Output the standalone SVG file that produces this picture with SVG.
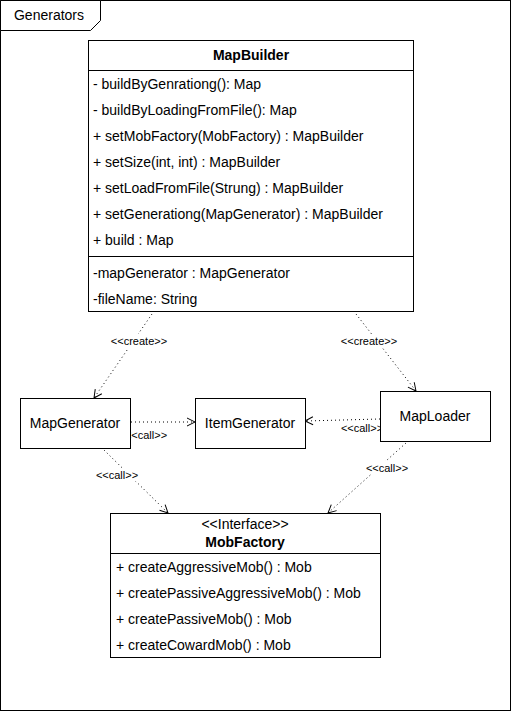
<svg xmlns="http://www.w3.org/2000/svg" width="511" height="711" viewBox="0 0 511 711">
<style>
.box{fill:#fff;stroke:#000;stroke-width:1}
.t{font-family:"Liberation Sans",Arial,sans-serif;font-size:14px;fill:#000}
.b{font-weight:bold}
.lbl{font-family:"Liberation Sans",Arial,sans-serif;font-size:11px;fill:#000}
.c{fill:none;stroke:#000;stroke-width:1;stroke-dasharray:1 3}
.lb{fill:#fff}
</style>
<defs>
<marker id="ar" markerWidth="12" markerHeight="12" refX="9" refY="5" orient="auto" markerUnits="userSpaceOnUse">
<path d="M1,1 L9,5 L1,9" fill="none" stroke="#000" stroke-width="1"/>
</marker>
</defs>
<g id="frame">
<rect x="0.5" y="0.5" width="510" height="710" fill="#fff" stroke="#000"/>
<path d="M0.5,0.5 H100.5 V20.5 L90.5,30.5 H0.5 Z" fill="#fff" stroke="#000"/>
<text class="t" x="49" y="20" text-anchor="middle">Generators</text>
</g>
<g id="connectors">
<line class="c" x1="152" y1="314" x2="94" y2="398" marker-end="url(#ar)"/>
<rect class="lb" x="110" y="334" width="58" height="14"/>
<text class="lbl" x="139" y="345" text-anchor="middle">&lt;&lt;create&gt;&gt;</text>
<line class="c" x1="356" y1="314" x2="416" y2="391" marker-end="url(#ar)"/>
<rect class="lb" x="340" y="334" width="58" height="14"/>
<text class="lbl" x="369" y="345" text-anchor="middle">&lt;&lt;create&gt;&gt;</text>
<line class="c" x1="131" y1="422" x2="195" y2="422" marker-end="url(#ar)"/>
<rect class="lb" x="125" y="429" width="43" height="13"/>
<text class="lbl" x="146" y="439" text-anchor="middle">&lt;&lt;call&gt;&gt;</text>
<line class="c" x1="380" y1="419" x2="305" y2="421" marker-end="url(#ar)"/>
<rect class="lb" x="341" y="422" width="43" height="13"/>
<text class="lbl" x="362" y="432" text-anchor="middle">&lt;&lt;call&gt;&gt;</text>
<line class="c" x1="104" y1="450" x2="168" y2="513" marker-end="url(#ar)"/>
<rect class="lb" x="96" y="468" width="43" height="13"/>
<text class="lbl" x="117" y="479" text-anchor="middle">&lt;&lt;call&gt;&gt;</text>
<line class="c" x1="406" y1="443" x2="328" y2="513" marker-end="url(#ar)"/>
<rect class="lb" x="366" y="461" width="43" height="13"/>
<text class="lbl" x="387" y="472" text-anchor="middle">&lt;&lt;call&gt;&gt;</text>
</g>
<g id="MapBuilder">
<rect class="box" x="88.5" y="40.5" width="325" height="271"/>
<line x1="88.5" y1="70.5" x2="413.5" y2="70.5" stroke="#000"/>
<line x1="88.5" y1="256.5" x2="413.5" y2="256.5" stroke="#000"/>
<text class="t b" x="251" y="60" text-anchor="middle">MapBuilder</text>
<text class="t" x="93" y="89">- buildByGenrationg(): Map</text>
<text class="t" x="93" y="115">- buildByLoadingFromFile(): Map</text>
<text class="t" x="93" y="141">+ setMobFactory(MobFactory) : MapBuilder</text>
<text class="t" x="93" y="167">+ setSize(int, int) : MapBuilder</text>
<text class="t" x="93" y="193">+ setLoadFromFile(Strung) : MapBuilder</text>
<text class="t" x="93" y="219">+ setGenerationg(MapGenerator) : MapBuilder</text>
<text class="t" x="93" y="245">+ build : Map</text>
<text class="t" x="93" y="278">-mapGenerator : MapGenerator</text>
<text class="t" x="93" y="304">-fileName: String</text>
</g>
<g id="MapGenerator">
<rect class="box" x="20.5" y="398.5" width="110" height="50"/>
<text class="t" x="75" y="428" text-anchor="middle">MapGenerator</text>
</g>
<g id="ItemGenerator">
<rect class="box" x="195.5" y="398.5" width="110" height="50"/>
<text class="t" x="250" y="428" text-anchor="middle">ItemGenerator</text>
</g>
<g id="MapLoader">
<rect class="box" x="380.5" y="391.5" width="110" height="50"/>
<text class="t" x="435" y="421" text-anchor="middle">MapLoader</text>
</g>
<g id="MobFactory">
<rect class="box" x="110.5" y="513.5" width="270" height="144"/>
<line x1="110.5" y1="553.5" x2="380.5" y2="553.5" stroke="#000"/>
<text class="t" x="245" y="529" text-anchor="middle">&lt;&lt;Interface&gt;&gt;</text>
<text class="t b" x="245" y="547" text-anchor="middle">MobFactory</text>
<text class="t" x="116" y="572">+ createAggressiveMob() : Mob</text>
<text class="t" x="116" y="598">+ createPassiveAggressiveMob() : Mob</text>
<text class="t" x="116" y="624">+ createPassiveMob() : Mob</text>
<text class="t" x="116" y="650">+ createCowardMob() : Mob</text>
</g>
</svg>
